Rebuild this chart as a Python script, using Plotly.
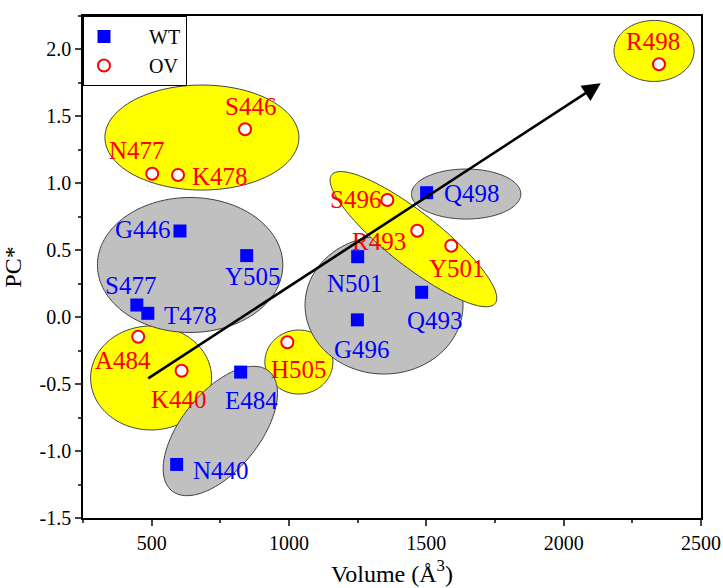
import numpy as np
import plotly.graph_objects as go

# ---------------- data ----------------
wt_names = ["G446", "Y505", "S477", "T478", "E484", "N440", "N501", "G496", "Q493", "Q498"]
wt_volume = [603, 846, 446, 486, 824, 591, 1250, 1249, 1483, 1501]
wt_pc = [0.644, 0.46, 0.091, 0.029, -0.41, -1.10, 0.452, -0.02, 0.186, 0.93]

ov_names = ["S446", "N477", "K478", "A484", "K440", "H505", "S496", "R493", "Y501", "R498"]
ov_volume = [840, 502, 596, 451, 609, 994, 1358, 1467, 1591, 2347]
ov_pc = [1.404, 1.072, 1.062, -0.146, -0.40, -0.187, 0.876, 0.646, 0.534, 1.89]

# trend arrow (start, end) in data units
arrow_start = (482, -0.464)
arrow_end = (2135, 1.747)

x_ticks = [500, 1000, 1500, 2000, 2500]
y_ticks = [-1.5, -1.0, -0.5, 0.0, 0.5, 1.0, 1.5, 2.0]
y_ticktext = ["-1.5", "-1.0", "-0.5", "0.0", "0.5", "1.0", "1.5", "2.0"]

# ---------------- styling / layout ----------------
W, H = 723, 588
ML, MR, MT, MB = 83, 22, 16, 70
XR = [250, 2500]
YR = [-1.5, 2.25]
SX = (W - ML - MR) / (XR[1] - XR[0])   # px per x unit
SY = (H - MT - MB) / (YR[1] - YR[0])   # px per y unit
FONT = "Liberation Serif, Times New Roman, serif"

# label offsets in pixels (dx right, dy up)
wt_offsets = [(-37, 1), (6, -21), (-6, 20), (43, -2), (11, -28), (44, -6),
              (-3, -27), (5, -30), (13, -28), (45, -1)]
ov_offsets = [(5, 23), (-15, 23), (42, -1), (-15, -24), (-3, -29), (12, -27),
              (-32, 0), (-38, -11), (6, -23), (-6, 23)]

# ellipses: (cx, cy in data units, semi-axes a,b in px, angle deg, fill)
YELLOW, GRAY = "#FFFF00", "#C0C0C0"
ellipses = [
    (498, -0.454, 60.5, 52, 0, YELLOW),
    (1036, -0.335, 34, 32, 0, YELLOW),
    (683, 1.342, 97, 52.5, 0, YELLOW),
    (640, 0.39, 92.7, 67.5, 0, GRAY),
    (750, -0.85, 77, 39, 51, GRAY),
    (1346, 0.091, 79, 69, 0, GRAY),
    (1453, 0.583, 104, 26.5, -38.2, YELLOW),
    (1645, 0.92, 54.7, 25, 0, GRAY),
    (2329, 1.989, 40, 30.5, 0, YELLOW),
]


def ellipse_path(cx, cy, a, b, ang, n=140):
    t = np.linspace(0, 2 * np.pi, n)
    th = np.radians(ang)
    dx = a * np.cos(t) * np.cos(th) - b * np.sin(t) * np.sin(th)
    dy = a * np.cos(t) * np.sin(th) + b * np.sin(t) * np.cos(th)
    xs = cx + dx / SX
    ys = cy + dy / SY
    pts = [f"{x:.3f},{y:.5f}" for x, y in zip(xs, ys)]
    return "M " + " L ".join(pts) + " Z"


shapes = []
for cx, cy, a, b, ang, col in ellipses:
    shapes.append(dict(type="path", path=ellipse_path(cx, cy, a, b, ang),
                       xref="x", yref="y", fillcolor=col,
                       line=dict(color="#404040", width=1), layer="below"))

PAD = "\u00a0" * 5
fig = go.Figure()
fig.add_trace(go.Scatter(
    x=wt_volume, y=wt_pc, mode="markers", name=PAD + "WT",
    marker=dict(symbol="square", size=13, color="#0000FF", line=dict(width=0)),
))
fig.add_trace(go.Scatter(
    x=ov_volume, y=ov_pc, mode="markers", name=PAD + "OV",
    marker=dict(symbol="circle", size=12, color="white",
                line=dict(color="#FF0000", width=2)),
))

annotations = []
for n, xv, yv, (dx, dy) in zip(wt_names, wt_volume, wt_pc, wt_offsets):
    annotations.append(dict(x=xv, y=yv, xref="x", yref="y", text=n, showarrow=False,
                            xshift=dx, yshift=dy, font=dict(family=FONT, size=25, color="#0000FF")))
for n, xv, yv, (dx, dy) in zip(ov_names, ov_volume, ov_pc, ov_offsets):
    annotations.append(dict(x=xv, y=yv, xref="x", yref="y", text=n, showarrow=False,
                            xshift=dx, yshift=dy, font=dict(family=FONT, size=25, color="#FF0000")))
annotations.append(dict(x=arrow_end[0], y=arrow_end[1], ax=arrow_start[0], ay=arrow_start[1],
                        xref="x", yref="y", axref="x", ayref="y", text="", showarrow=True,
                        arrowhead=2, arrowsize=1.4, arrowwidth=2.6, arrowcolor="black"))

fig.update_layout(
    width=W, height=H,
    margin=dict(l=ML, r=MR, t=MT, b=MB, autoexpand=False),
    paper_bgcolor="white", plot_bgcolor="white",
    font=dict(family=FONT, color="black"),
    shapes=shapes, annotations=annotations,
    showlegend=True,
    legend=dict(x=0, y=1, xanchor="left", yanchor="top",
                bordercolor="black", borderwidth=1, bgcolor="white",
                font=dict(family=FONT, size=20, color="black"),
                tracegroupgap=0, itemsizing="trace"),
    xaxis=dict(range=XR, tickvals=x_ticks, ticks="outside", ticklen=6, tickwidth=1.5,
               showline=True, linewidth=1.5, linecolor="black", mirror=True,
               showgrid=False, zeroline=False, automargin=False, ticklabeloverflow="allow",
               minor=dict(dtick=250, tick0=250, ticks="outside", ticklen=3, tickwidth=1.5),
               tickfont=dict(family=FONT, size=20, color="black"),
               title=dict(text="Volume (Å<sup>3</sup>)", font=dict(family=FONT, size=24), standoff=12)),
    yaxis=dict(range=YR, tickvals=y_ticks, ticktext=y_ticktext, ticks="outside", ticklen=6, tickwidth=1.5,
               showline=True, linewidth=1.5, linecolor="black", mirror=True,
               showgrid=False, zeroline=False, automargin=False,
               minor=dict(dtick=0.25, tick0=0, ticks="outside", ticklen=3, tickwidth=1.5),
               tickfont=dict(family=FONT, size=20, color="black"),
               title=dict(text="PC*", font=dict(family=FONT, size=24))),
)

# remove the browser's default 8px body margin so the figure fills the window exactly
fig.write_html("out.html", config={"displayModeBar": False},
               post_script="document.body.style.margin='0';document.body.style.overflow='hidden';")
